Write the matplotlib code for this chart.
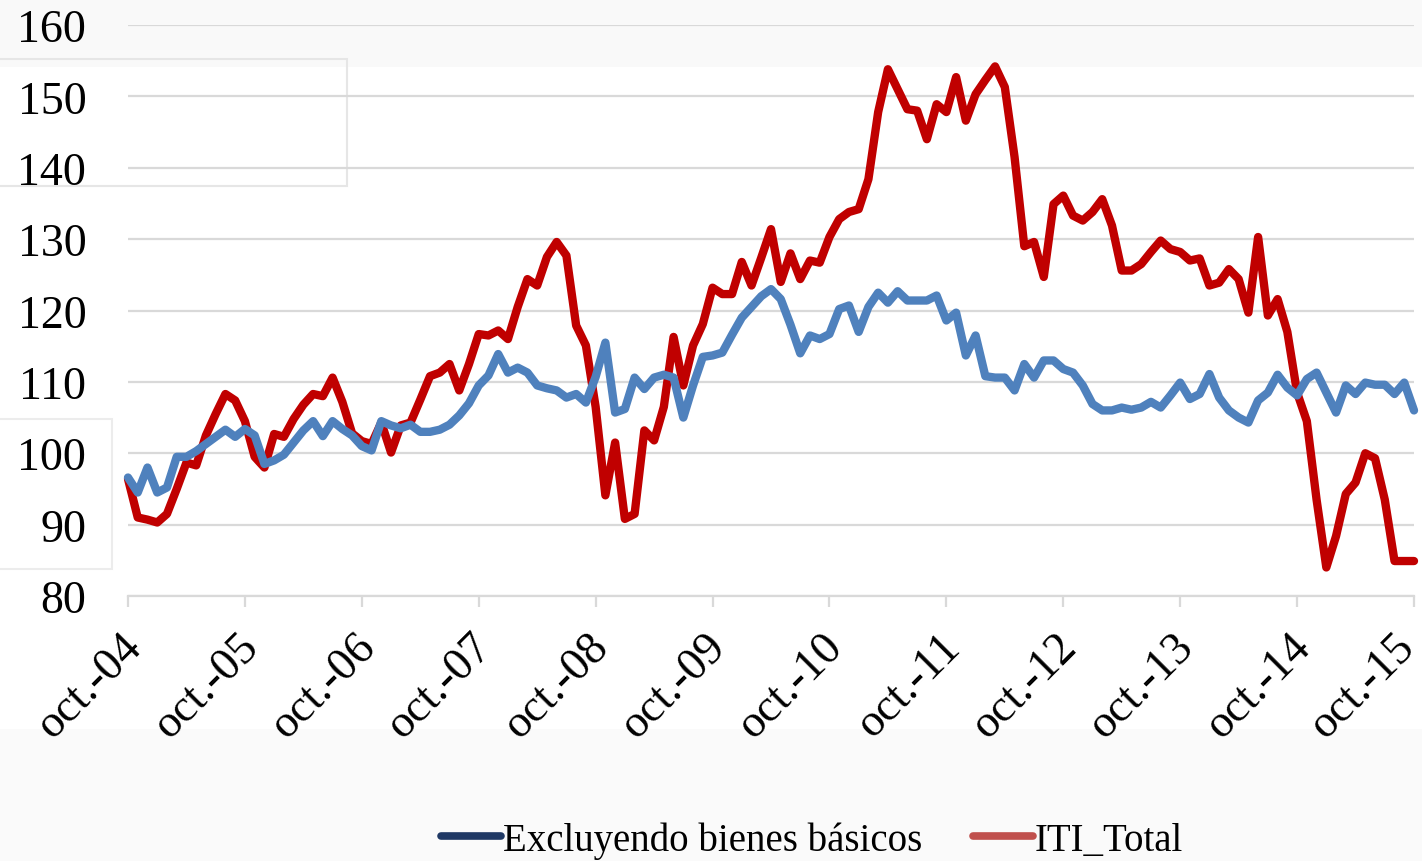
import matplotlib
matplotlib.use("Agg")
import matplotlib.pyplot as plt
from matplotlib.patches import Rectangle
from matplotlib.lines import Line2D
from matplotlib.transforms import ScaledTranslation

# ---- data (monthly, oct-2004 .. oct-2015) ----
tick_labels = ["oct.-04", "oct.-05", "oct.-06", "oct.-07", "oct.-08", "oct.-09",
               "oct.-10", "oct.-11", "oct.-12", "oct.-13", "oct.-14", "oct.-15"]

iti_total = [
    96.4, 91.0, 90.7, 90.3, 91.5, 95.0, 98.7, 98.3, 102.5, 105.5,
    108.3, 107.4, 104.5, 99.5, 98.0, 102.7, 102.3, 104.8, 106.8, 108.3,
    108.0, 110.6, 107.2, 102.8, 101.7, 101.3, 104.3, 100.1, 103.9, 104.3,
    107.5, 110.8, 111.3, 112.5, 108.8, 112.5, 116.7, 116.5, 117.2, 116.0,
    120.5, 124.4, 123.5, 127.5, 129.6, 127.7, 117.9, 115.1, 106.5, 94.1,
    101.5, 90.8, 91.5, 103.2, 101.8, 106.5, 116.3, 109.5, 115.1, 118.1,
    123.2, 122.3, 122.3, 126.8, 123.5, 127.4, 131.4, 124.0, 128.0, 124.4,
    127.0, 126.7, 130.3, 132.8, 133.8, 134.2, 138.4, 147.8, 153.8, 151.0,
    148.2, 148.0, 144.0, 148.9, 147.8, 152.7, 146.6, 150.3, 152.3, 154.2,
    151.3, 141.5, 129.0, 129.6, 124.7, 134.9, 136.1, 133.3, 132.6, 133.8,
    135.6, 131.9, 125.6, 125.6, 126.5, 128.2, 129.8, 128.6, 128.2, 127.0,
    127.3, 123.5, 123.9, 125.8, 124.4, 119.7, 130.3, 119.3, 121.6, 117.0,
    108.5, 104.5, 93.5, 84.0, 88.4, 94.3, 95.9, 100.0, 99.3, 93.5,
    84.9, 84.9, 84.9,
]

excl_basicos = [
    96.6, 94.5, 98.0, 94.5, 95.2, 99.5, 99.5, 100.3, 101.3, 102.3,
    103.3, 102.3, 103.4, 102.5, 98.5, 99.0, 99.8, 101.5, 103.2, 104.5,
    102.4, 104.5, 103.4, 102.5, 101.0, 100.4, 104.5, 103.9, 103.5, 104.0,
    103.0, 103.0, 103.3, 104.0, 105.3, 107.0, 109.5, 110.9, 113.9, 111.3,
    112.0, 111.3, 109.5, 109.1, 108.8, 107.8, 108.3, 107.1, 110.7, 115.5,
    105.7, 106.2, 110.6, 109.0, 110.6, 111.0, 110.6, 105.0, 109.5, 113.5,
    113.7, 114.1, 116.6, 119.0, 120.5, 122.0, 123.0, 121.6, 118.0, 114.0,
    116.5, 116.0, 116.7, 120.2, 120.7, 117.0, 120.5, 122.5, 121.1, 122.7,
    121.4, 121.4, 121.4, 122.1, 118.6, 119.7, 113.7, 116.5, 110.8, 110.6,
    110.6, 108.8, 112.5, 110.6, 113.0, 113.0, 111.8, 111.3, 109.5, 106.9,
    106.0, 106.0, 106.4, 106.1, 106.4, 107.2, 106.4, 108.1, 109.9, 107.6,
    108.3, 111.1, 107.8, 106.0, 105.0, 104.3, 107.4, 108.5, 111.0, 109.2,
    108.1, 110.4, 111.3, 108.5, 105.7, 109.5, 108.3, 109.9, 109.6, 109.6,
    108.3, 109.9, 106.0,
]

series_names = ["Excluyendo bienes básicos", "ITI_Total"]
months = list(range(len(iti_total)))

# ---- styling ----
W, H = 1422, 862
FONT = ["Liberation Serif", "DejaVu Serif"]
plt.rcParams["font.family"] = FONT
TICK_FS = 33
LEG_FS = 28

fig = plt.figure(figsize=(W / 100, H / 100), dpi=100, facecolor="white")

# faint background boxes seen in the reference
def fig_rect(x0, y0, w, h, **kw):
    fig.patches.append(Rectangle((x0 / W, 1 - (y0 + h) / H), w / W, h / H,
                                 transform=fig.transFigure, zorder=-5, **kw))

fig_rect(0, 0, W, 68, facecolor="#F9F9F9", edgecolor="none")
fig_rect(0, 730, W, 132, facecolor="#FAFAFA", edgecolor="none")
fig_rect(-10, 60, 357, 127, facecolor="none", edgecolor="#E6E6E6", lw=1.5)
fig_rect(-10, 420, 122, 150, facecolor="none", edgecolor="#ECECEC", lw=1.5)

ax = fig.add_axes([128 / W, 1 - 597 / H, (1414 - 128) / W, (597 - 26) / H])
ax.set_facecolor("none")

ax.plot(months, excl_basicos, color="#4F81BD", lw=6.0, solid_joinstyle="round",
        solid_capstyle="round", clip_on=False, zorder=3)
ax.plot(months, iti_total, color="#C00000", lw=6.0, solid_joinstyle="round",
        solid_capstyle="round", clip_on=False, zorder=2)

ax.set_xlim(0, len(months) - 1)
ax.set_ylim(80, 160)
ax.set_yticks(range(80, 161, 10))
ax.yaxis.grid(True, color="#D9D9D9", lw=1.6)
ax.set_axisbelow(True)
ax.set_xticks(range(0, len(months), 12))
ax.set_xticklabels(tick_labels, rotation=45, ha="right", va="center",
                   rotation_mode="anchor", fontsize=TICK_FS)
ax.tick_params(axis="x", length=8, width=1.6, color="#D9D9D9", pad=24)
ax.tick_params(axis="y", length=0, pad=30, labelsize=TICK_FS)
for s in ["left", "right", "top"]:
    ax.spines[s].set_visible(False)
ax.spines["bottom"].set_color("#D9D9D9")
ax.spines["bottom"].set_linewidth(1.6)

# nudge date labels right like the reference; keep the last one inside the canvas
labels = ax.get_xticklabels()
for i, lab in enumerate(labels):
    dx = 7 if i < len(labels) - 1 else -6
    lab.set_transform(lab.get_transform() + ScaledTranslation(dx / 100, 0, fig.dpi_scale_trans))

handles = [Line2D([0], [0], color="#1F3864", lw=5.5, solid_capstyle="round"),
           Line2D([0], [0], color="#C0504D", lw=5.5, solid_capstyle="round")]
fig.legend(handles, series_names, loc="center", bbox_to_anchor=(812 / W, 1 - 841 / H),
           ncol=2, frameon=False, fontsize=LEG_FS, handlelength=1.55, handletextpad=0.05,
           columnspacing=1.3)

fig.savefig("out.png", dpi=100, facecolor=fig.get_facecolor())
